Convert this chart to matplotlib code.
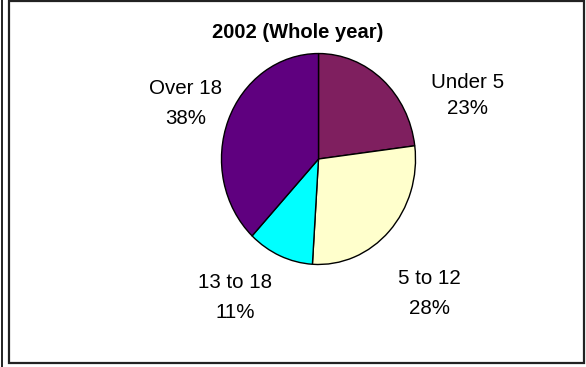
import matplotlib.pyplot as plt
from matplotlib.patches import Rectangle
from matplotlib.lines import Line2D

plt.rcParams['font.family'] = ['Liberation Sans', 'DejaVu Sans']

# age groups, clockwise from 12 o'clock
labels = ["Under 5", "5 to 12", "13 to 18", "Over 18"]
shares = [23, 28, 11, 38]
colors = ["#7F1F5F", "#FFFFCC", "#00FFFF", "#5F007F"]
# label x centre and baselines of the two lines (pixels from top-left)
label_pos = [(468, 87.5, 113.5), (429, 284.5, 314.5), (235.5, 287.5, 318.5), (185.5, 93.5, 123.5)]

W, H = 586, 367
FS = 14.8
fig = plt.figure(figsize=(W / 100, H / 100), dpi=100)


def fx(x):
    return x / W


def fy(y):
    return 1 - y / H


# outer frame lines
fig.add_artist(Line2D([fx(1.5), fx(1.5)], [0, 1], color="#222222", lw=1.4))
fig.add_artist(Rectangle((fx(9), fy(363)), fx(584) - fx(9), fy(0.5) - fy(363),
                         fill=False, edgecolor="#222222", lw=1.6))

# pie, slightly taller than wide
cx, cy, rx, ry = 318.5, 159, 97.5, 106
ax = fig.add_axes([fx(cx - rx), fy(cy + ry), 2 * rx / W, 2 * ry / H])
ax.pie(shares, colors=colors, startangle=90, counterclock=False,
       wedgeprops=dict(edgecolor="black", linewidth=1.0))
ax.set_aspect('auto')
ax.set_xlim(-1.005, 1.005)
ax.set_ylim(-1.005, 1.005)
ax.axis('off')

fig.text(fx(298), fy(37.5), "2002 (Whole year)", ha="center", va="baseline",
         fontsize=14.5, fontweight="bold")

for lab, val, (x, y1, y2) in zip(labels, shares, label_pos):
    fig.text(fx(x), fy(y1), lab, ha="center", va="baseline", fontsize=FS)
    fig.text(fx(x), fy(y2), f"{val}%", ha="center", va="baseline", fontsize=FS)

fig.savefig("out.png", dpi=100)
